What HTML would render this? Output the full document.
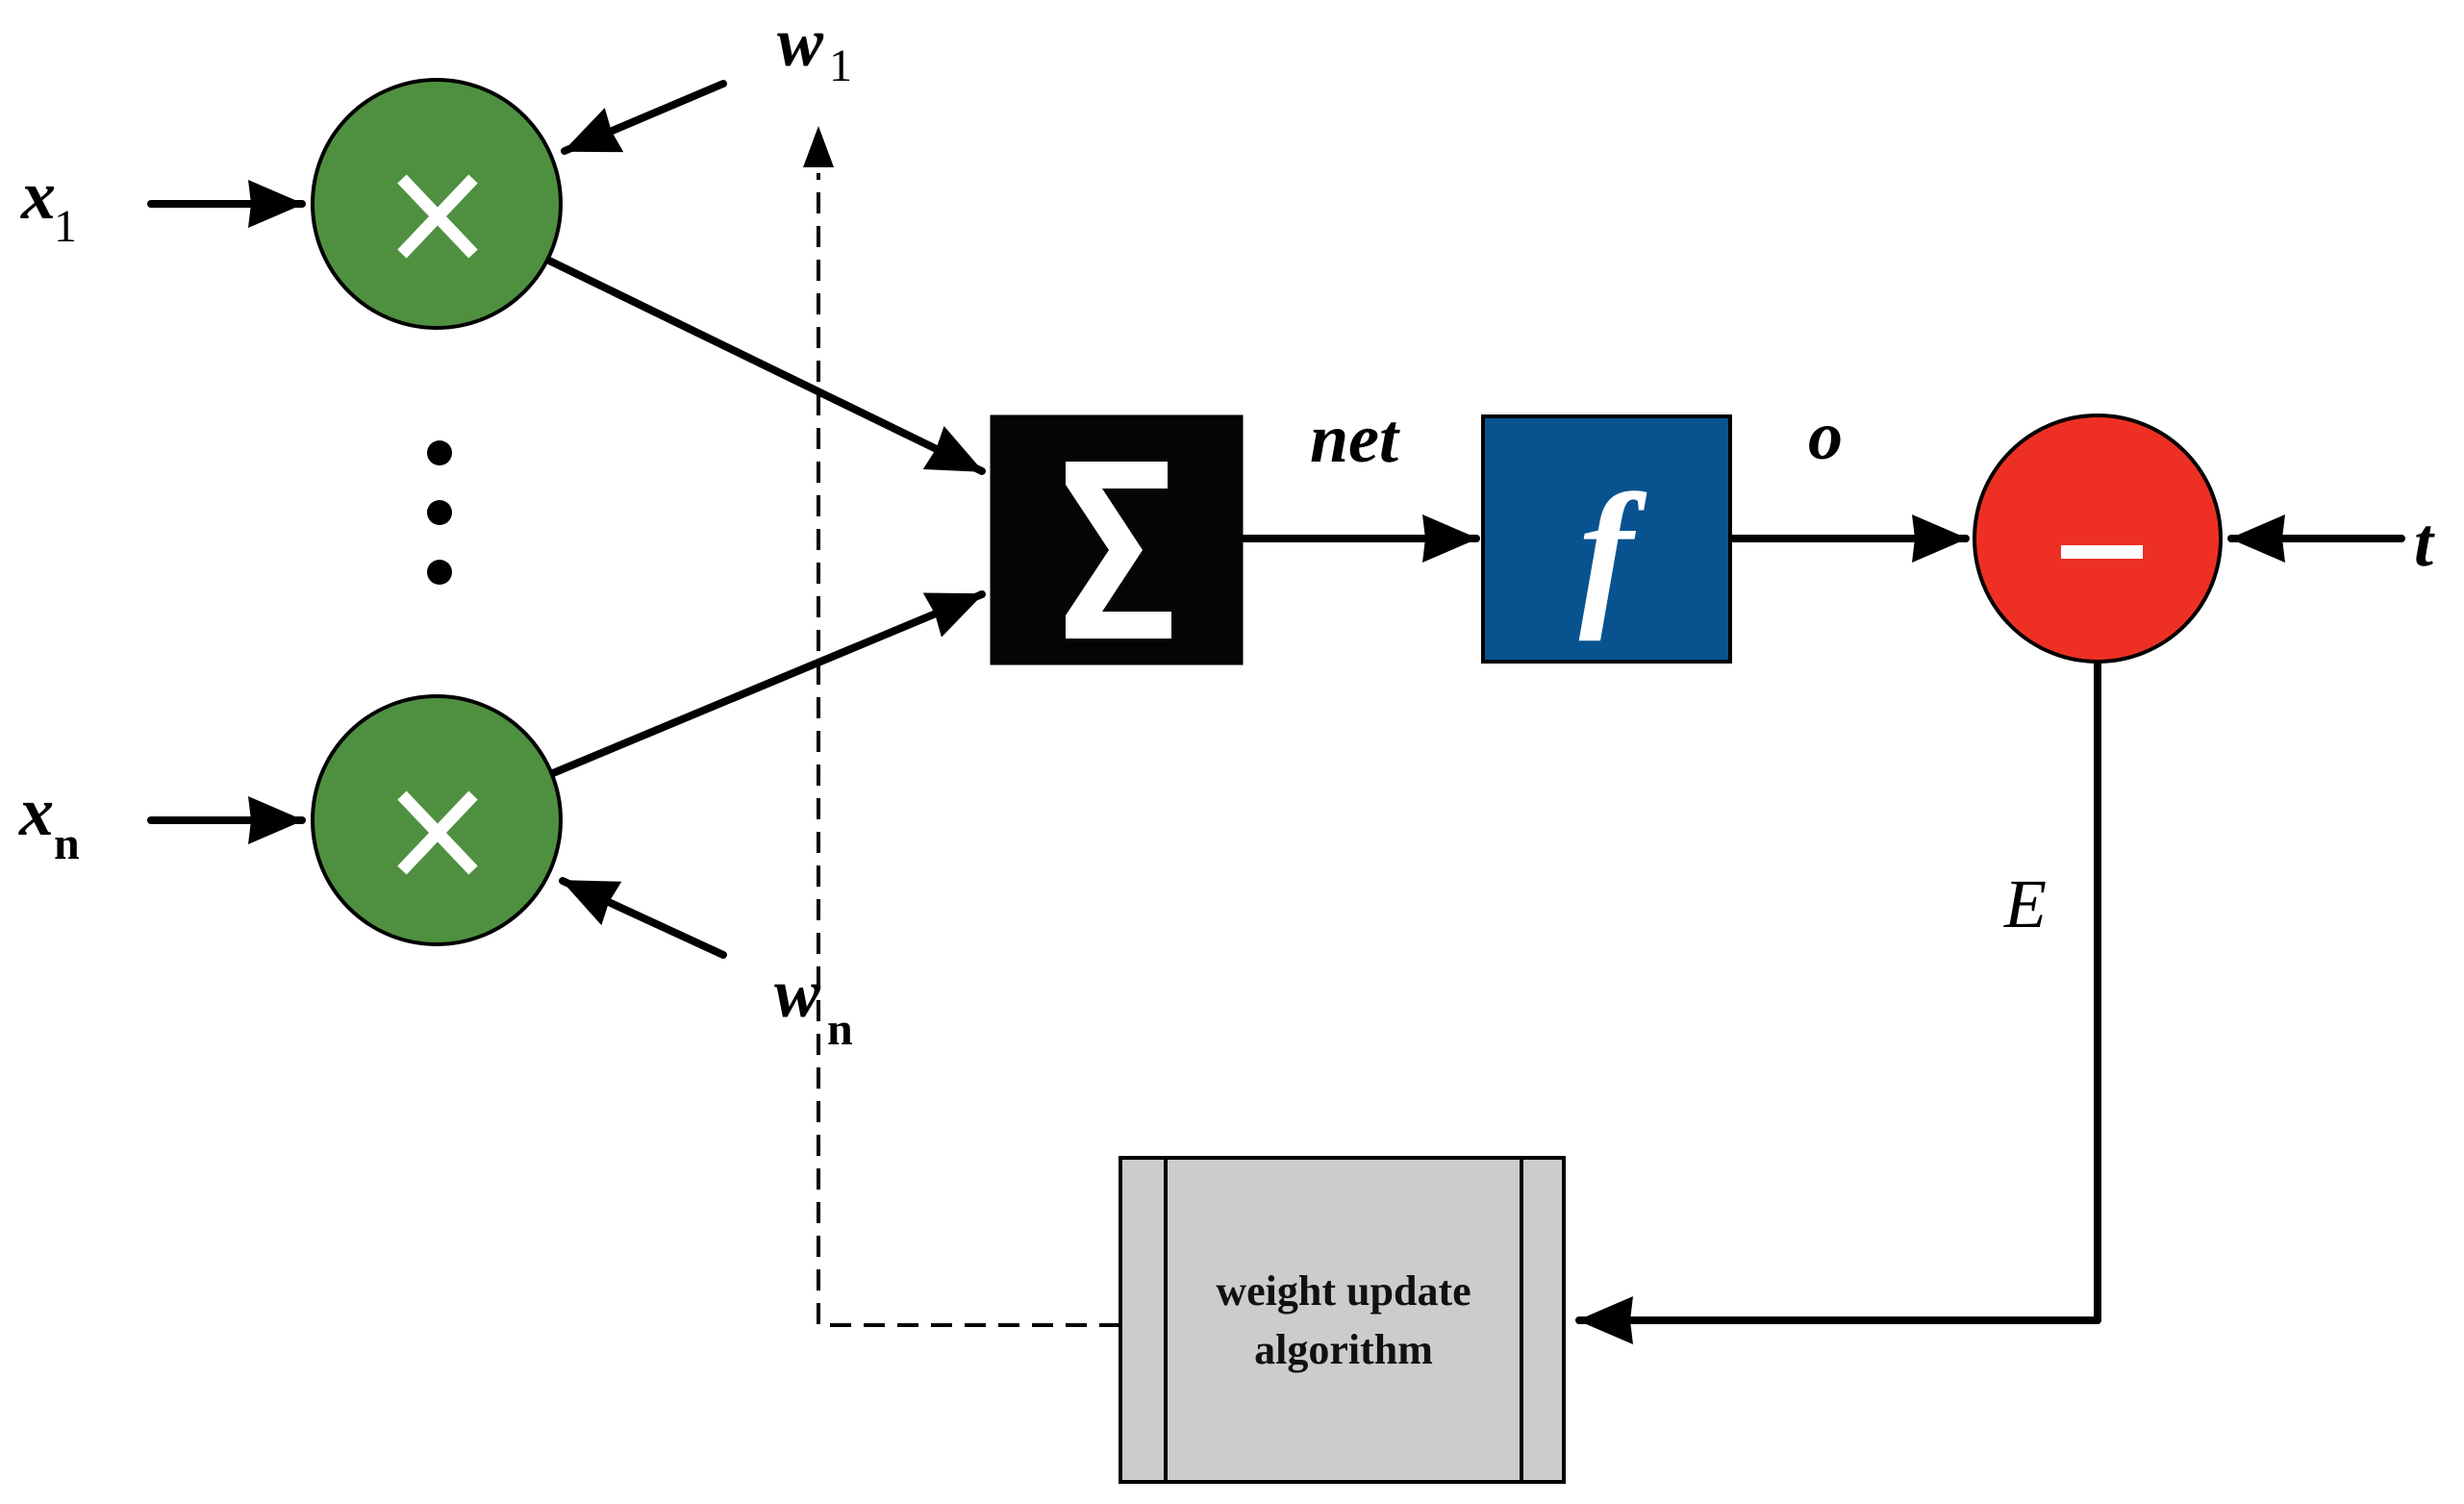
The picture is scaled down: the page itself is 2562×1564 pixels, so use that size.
<!DOCTYPE html>
<html><head><meta charset="utf-8"><style>html,body{margin:0;padding:0;background:#fff}svg{display:block}</style></head>
<body>
<svg width="2562" height="1564" viewBox="0 0 2562 1564" xmlns="http://www.w3.org/2000/svg">
<defs>
<marker id="a" markerUnits="userSpaceOnUse" markerWidth="58" markerHeight="50" refX="56" refY="25" orient="auto">
<path d="M0,0 L58,25 L0,50 L3,25 Z" fill="#000"/>
</marker>
</defs>
<g stroke="#000" stroke-width="8" fill="none" stroke-linecap="round">
<line x1="157" y1="212" x2="314" y2="212" marker-end="url(#a)"/>
<line x1="157" y1="853" x2="314" y2="853" marker-end="url(#a)"/>
<line x1="752" y1="87" x2="587" y2="157" marker-end="url(#a)"/>
<line x1="752" y1="993" x2="585" y2="916" marker-end="url(#a)"/>
<line x1="569" y1="270" x2="1021" y2="490" marker-end="url(#a)"/>
<line x1="575" y1="804" x2="1021" y2="618" marker-end="url(#a)"/>
<line x1="1291" y1="560" x2="1535" y2="560" marker-end="url(#a)"/>
<line x1="1799" y1="560" x2="2044" y2="560" marker-end="url(#a)"/>
<line x1="2497" y1="560" x2="2320" y2="560" marker-end="url(#a)"/>
<polyline points="2181,690 2181,1373 1642,1373" marker-end="url(#a)" stroke-linejoin="round"/>
<polyline points="1165,1378 851,1378 851,180" stroke-width="4" stroke-dasharray="22,13" stroke-linecap="butt"/>
</g>
<path d="M851,131 L835,174 L867,174 Z" fill="#000"/>
<circle cx="454" cy="212" r="129" fill="#4f9040" stroke="#000" stroke-width="4"/>
<circle cx="454" cy="853" r="129" fill="#4f9040" stroke="#000" stroke-width="4"/>
<g stroke="#fff" stroke-width="13"><line x1="418" y1="186" x2="492" y2="264"/><line x1="492" y1="186" x2="418" y2="264"/>
<line x1="418" y1="827" x2="492" y2="905"/><line x1="492" y1="827" x2="418" y2="905"/></g>
<circle cx="457" cy="471" r="13" fill="#000"/><circle cx="457" cy="533" r="13" fill="#000"/><circle cx="457" cy="595" r="13" fill="#000"/>
<rect x="1031" y="433" width="260" height="257" fill="#050505" stroke="#000" stroke-width="3"/>
<path d="M1108,480 L1214,480 L1214,508 L1146,508 L1188,572 L1146,636 L1218,636 L1218,664 L1108,664 L1108,640 L1153,572 L1108,504 Z" fill="#fff"/>
<rect x="1542" y="433" width="257" height="255" fill="#08538f" stroke="#000" stroke-width="4"/>
<text x="1670" y="630" font-family="Liberation Serif, serif" font-style="italic" font-weight="bold" font-size="170" fill="#fff" text-anchor="middle">f</text>
<circle cx="2181" cy="560" r="128" fill="#ee3024" stroke="#000" stroke-width="4"/>
<rect x="2143" y="567" width="85" height="14" fill="#fff"/>
<rect x="1165" y="1204" width="461" height="337" fill="#cbcccb" stroke="#000" stroke-width="4"/>
<line x1="1212" y1="1204" x2="1212" y2="1541" stroke="#000" stroke-width="4"/>
<line x1="1582" y1="1204" x2="1582" y2="1541" stroke="#000" stroke-width="4"/>
<g font-family="Liberation Serif, serif" font-weight="bold" font-size="44" text-anchor="middle" fill="#111">
<text x="1397" y="1357">weight update</text><text x="1397" y="1418">algorithm</text></g>
<g font-family="Liberation Serif, serif" font-style="italic" font-weight="bold" font-size="72" fill="#000">
<text x="22" y="227">x</text><text x="20" y="868">x</text>
<text x="808" y="68">w</text><text x="805" y="1057">w</text>
<text x="1362" y="480">net</text>
<text x="1880" y="477">o</text>
<text x="2510" y="588">t</text>
<text x="2084" y="964" font-weight="normal">E</text>
</g>
<g font-family="Liberation Serif, serif" font-size="48" fill="#000">
<text x="56" y="251">1</text><text x="56" y="893" font-weight="bold">n</text>
<text x="862" y="84">1</text><text x="860" y="1086" font-weight="bold">n</text>
</g>
</svg>
</body></html>
